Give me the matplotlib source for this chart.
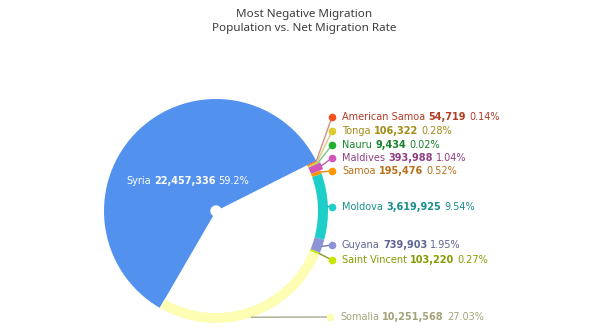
import matplotlib.pyplot as plt
import numpy as np

plt.rcParams['font.family'] = ['DejaVu Sans']

# countries in drawing order (counter-clockwise from the Syria wedge)
countries = ['Syria', 'Somalia', 'Saint Vincent', 'Guyana', 'Moldova',
             'Samoa', 'Maldives', 'Nauru', 'Tonga', 'American Samoa']
population = [22457336, 10251568, 103220, 739903, 3619925,
              195476, 393988, 9434, 106322, 54719]
share = ['59.2%', '27.03%', '0.27%', '1.95%', '9.54%',
         '0.52%', '1.04%', '0.02%', '0.28%', '0.14%']

slice_colors = ['#5391ee', '#fdfdb4', '#c8e600', '#8c93d6', '#1ecec8',
                '#ff9800', '#d355bb', '#1fb12e', '#dccb2b', '#f4511e']
text_colors = ['#ffffff', '#a4a37a', '#889a00', '#5d6593', '#17908c',
               '#b8701a', '#8f3f83', '#17812a', '#a38b15', '#b23c25']
line_colors = ['#ffffff', '#a8a890', '#8a9a20', '#6f76b8', '#17a8a3',
               '#e08a20', '#b860a8', '#7cc486', '#d8cc80', '#d09080']

# label rows on the right (pixel y, measured from the top)
label_rows = {'American Samoa': 117, 'Tonga': 131, 'Nauru': 145,
              'Maldives': 158, 'Samoa': 171, 'Moldova': 207,
              'Guyana': 245, 'Saint Vincent': 260, 'Somalia': 317}

W, H = 604, 332
fig = plt.figure(figsize=(W / 100, H / 100), dpi=100)
ax = fig.add_axes([0, 0, 1, 1])

cx, cy, R = 216, H - 211, 112
ring = 10
fs = 7.0

wedges, _ = ax.pie(population, colors=slice_colors, startangle=26.7,
                   counterclock=True, center=(cx, cy), radius=R,
                   wedgeprops=dict(linewidth=0))
ax.set_xlim(0, W)
ax.set_ylim(0, H)
ax.set_aspect('equal')
ax.axis('off')

for name, w in zip(countries, wedges):
    if name == 'Syria':
        continue
    if name == 'Maldives':
        w.set_radius(R + 3)
        w.set_width(ring + 3)
    else:
        w.set_width(ring)

ax.add_patch(plt.Circle((cx, cy), 5, color='white', zorder=5))

fig.canvas.draw()
rend = fig.canvas.get_renderer()
gap = 3.2


def piece_width(s, bold):
    t = ax.text(0, 0, s, fontsize=fs, fontweight='bold' if bold else 'normal')
    wd = t.get_window_extent(rend).width
    t.remove()
    return wd


def rich_label(x, y, pieces, color):
    for s, bold in pieces:
        ax.text(x, y, s, color=color, fontsize=fs, va='center', ha='left',
                fontweight='bold' if bold else 'normal', zorder=6)
        x += piece_width(s, bold) + gap


for i, (name, w) in enumerate(zip(countries, wedges)):
    mid = np.deg2rad((w.theta1 + w.theta2) / 2)
    pieces = [(name, False), (f'{population[i]:,}', True), (share[i], False)]
    if name == 'Syria':
        lx = cx + 0.37 * R * np.cos(mid)
        ly = cy + 0.37 * R * np.sin(mid)
        total = sum(piece_width(s, b) for s, b in pieces) + gap * 2
        rich_label(lx - total / 2, ly, pieces, text_colors[i])
        continue
    px = cx + w.r * np.cos(mid)
    py = cy + w.r * np.sin(mid)
    dy = H - label_rows[name]
    dx = 332 if name != 'Somalia' else 330
    ax.plot([px, dx], [py, dy], color=line_colors[i], lw=1, zorder=4)
    ax.plot(dx, dy, 'o', color=slice_colors[i], ms=5.5, mec='none', zorder=6)
    rich_label(dx + 10, dy, pieces, text_colors[i])

for y, s in [(14, 'Most Negative Migration'),
             (29, 'Population vs. Net Migration Rate')]:
    ax.text(W / 2 + 2, H - y, s, ha='center', va='center', fontsize=8.4,
            color='#3d3d3d', family='Noto Sans')

fig.savefig('out.png', dpi=100)
